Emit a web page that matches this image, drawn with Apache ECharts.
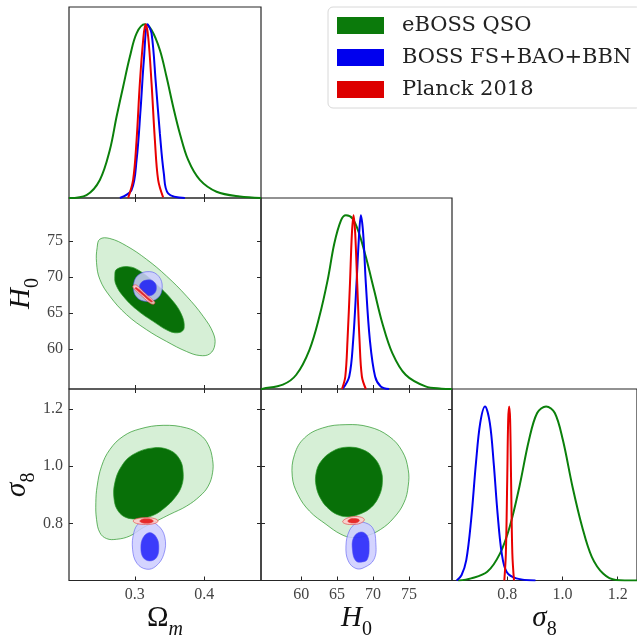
<!DOCTYPE html>
<html>
<head>
<meta charset="utf-8">
<title>eBOSS QSO triangle plot</title>
<script src="https://cdn.jsdelivr.net/npm/echarts@6/dist/echarts.min.js"></script>
<style>
  html, body { margin: 0; padding: 0; background: #fff; }
  #chart { width: 637px; height: 641px; }
</style>
</head>
<body>
<div id="chart"></div>
<script>
// axis ranges + tick values
const omRange = [0.205, 0.482];
const h0Range = [54.4, 81.0];
const s8Range = [0.6, 1.27];
const omTicks = [0.3, 0.4];
const h0Ticks = [60, 65, 70, 75];
const s8Ticks = [0.8, 1.0, 1.2];

const names = ['eBOSS QSO', 'BOSS FS+BAO+BBN', 'Planck 2018'];

// 1D marginals: [value, density / peak]
const omGreen = [[0.205, 0], [0.2303, 0.017], [0.2495, 0.104], [0.2639, 0.276], [0.2736, 0.468], [0.2831, 0.641], [0.2928, 0.813], [0.3025, 0.948], [0.3144, 1.0], [0.3241, 0.967], [0.3361, 0.852], [0.3457, 0.698], [0.3553, 0.526], [0.3649, 0.372], [0.3769, 0.219], [0.3938, 0.104], [0.4179, 0.036], [0.4515, 0.008], [0.482, 0]];
const omBlue = [[0.2784, 0], [0.2952, 0.046], [0.3025, 0.219], [0.3082, 0.507], [0.313, 0.794], [0.3183, 1.0], [0.3241, 0.948], [0.3303, 0.66], [0.3361, 0.372], [0.3418, 0.142], [0.348, 0.027], [0.3722, 0]];
const omRed = [[0.2903, 0], [0.2975, 0.104], [0.3025, 0.334], [0.3072, 0.66], [0.312, 0.91], [0.3154, 1.0], [0.3192, 0.93], [0.3241, 0.66], [0.3289, 0.334], [0.3336, 0.104], [0.3408, 0.004]];

const h0Green = [[54.4, 0], [54.68, 0.002], [57.45, 0.025], [59.31, 0.082], [61.15, 0.226], [62.53, 0.417], [63.68, 0.627], [64.61, 0.838], [65.54, 0.971], [66.23, 1.0], [67.15, 0.981], [68.07, 0.895], [69.0, 0.761], [70.15, 0.57], [71.3, 0.379], [72.69, 0.207], [74.54, 0.082], [77.31, 0.015], [79.54, 0.002], [81.0, 0]];
const h0Blue = [[65.76, 0], [66.69, 0.072], [67.24, 0.283], [67.7, 0.608], [68.07, 0.895], [68.31, 1.0], [68.63, 0.895], [69.0, 0.608], [69.56, 0.283], [70.29, 0.072], [71.08, 0.015], [72.23, 0]];
const h0Red = [[65.68, 0], [66.14, 0.072], [66.45, 0.283], [66.79, 0.608], [67.06, 0.895], [67.29, 1.0], [67.52, 0.895], [67.8, 0.608], [68.12, 0.283], [68.45, 0.072], [69.0, 0]];

const s8Green = [[0.6227, 0], [0.6692, 0.012], [0.7276, 0.05], [0.7741, 0.156], [0.8091, 0.309], [0.8441, 0.539], [0.879, 0.808], [0.9084, 0.962], [0.9409, 1.0], [0.9724, 0.962], [1.0014, 0.808], [1.0364, 0.539], [1.0713, 0.309], [1.1063, 0.136], [1.1472, 0.04], [1.1937, 0.003], [1.27, 0]];
const s8Blue = [[0.6168, 0], [0.6343, 0.03], [0.6517, 0.117], [0.6692, 0.347], [0.6867, 0.674], [0.7021, 0.904], [0.7196, 1.0], [0.7371, 0.904], [0.751, 0.674], [0.765, 0.386], [0.7801, 0.156], [0.7976, 0.05], [0.8326, 0.012], [0.9024, 0]];
const s8Red = [[0.7895, 0], [0.7951, 0.156], [0.8, 0.578], [0.8035, 0.923], [0.807, 1.0], [0.8105, 0.923], [0.814, 0.578], [0.8185, 0.156], [0.8245, 0]];

// 2D contours (outer = 95%, inner = 68%), points read round each region
// Omega_m vs H0
const omH0GreenOuter = [[0.2495, 75.27], [0.2639, 75.36], [0.288, 74.33], [0.3169, 72.46], [0.3457, 70.13], [0.3746, 67.33], [0.3986, 64.52], [0.413, 62.2], [0.4154, 60.56], [0.4082, 59.3], [0.3938, 59.06], [0.3746, 59.62], [0.3457, 61.02], [0.3169, 62.66], [0.288, 64.76], [0.2639, 67.33], [0.2495, 69.66], [0.2447, 72.0], [0.2456, 74.1]];
const omH0GreenInner = [[0.2736, 71.06], [0.2903, 71.44], [0.3072, 70.83], [0.3313, 68.96], [0.353, 66.86], [0.3674, 64.76], [0.3711, 62.9], [0.3649, 62.28], [0.3505, 62.42], [0.3264, 63.82], [0.3025, 65.46], [0.2831, 67.33], [0.2726, 68.96], [0.2711, 70.13]];
const omH0BlueOuter = [[0.321, 70.75], [0.3345, 70.1], [0.3395, 68.6], [0.3335, 67.1], [0.317, 66.6], [0.3025, 67.2], [0.298, 68.7], [0.304, 70.2]];
const omH0BlueInner = [[0.3195, 69.6], [0.328, 69.3], [0.3311, 68.5], [0.328, 67.7], [0.3185, 67.35], [0.3095, 67.65], [0.3065, 68.45], [0.3095, 69.25]];
const omH0RedOuter = [[0.2985, 68.85], [0.3025, 68.85], [0.3125, 67.95], [0.3235, 67.0], [0.329, 66.45], [0.327, 66.2], [0.322, 66.35], [0.311, 67.25], [0.301, 68.15], [0.297, 68.6]];
const omH0RedInner = [[0.302, 68.55], [0.312, 67.75], [0.322, 66.9], [0.3255, 66.6], [0.323, 66.55], [0.313, 67.35], [0.303, 68.2], [0.3005, 68.4]];

// Omega_m vs sigma8
const omS8GreenOuter = [[0.3408, 1.1429], [0.3746, 1.1338], [0.3938, 1.1104], [0.4058, 1.0756], [0.4121, 1.0232], [0.4121, 0.9768], [0.4058, 0.9301], [0.3938, 0.8952], [0.3746, 0.8603], [0.3505, 0.8314], [0.3313, 0.808], [0.312, 0.785], [0.2928, 0.7557], [0.2736, 0.7442], [0.2592, 0.7466], [0.2495, 0.7676], [0.2447, 0.814], [0.2437, 0.8722], [0.2456, 0.9301], [0.252, 0.9999], [0.2639, 1.0581], [0.2831, 1.1045], [0.3072, 1.1303]];
const omS8GreenInner = [[0.3264, 1.064], [0.3505, 1.0557], [0.3649, 1.0232], [0.3697, 0.9768], [0.3674, 0.9301], [0.3577, 0.8896], [0.3433, 0.8548], [0.3264, 0.8279], [0.3072, 0.8164], [0.288, 0.8199], [0.2759, 0.8429], [0.2701, 0.8837], [0.2711, 0.942], [0.2808, 0.9999], [0.2975, 1.0407]];
const omS8BlueOuter = [[0.3169, 0.808], [0.3332, 0.793], [0.3433, 0.7512], [0.3418, 0.6919], [0.3303, 0.65], [0.3169, 0.6396], [0.3029, 0.6605], [0.2967, 0.7093], [0.2986, 0.7686], [0.3058, 0.8]];
const omS8BlueInner = [[0.3216, 0.7676], [0.3313, 0.7501], [0.3346, 0.7152], [0.3313, 0.6804], [0.3216, 0.6685], [0.312, 0.6804], [0.3087, 0.7152], [0.312, 0.7501]];
const omS8RedOuter = [[0.2976, 0.808], [0.3027, 0.8165], [0.3156, 0.82], [0.3285, 0.8165], [0.3336, 0.808], [0.3285, 0.7995], [0.3156, 0.796], [0.3027, 0.7995]];
const omS8RedInner = [[0.3072, 0.808], [0.31, 0.8137], [0.3169, 0.816], [0.3238, 0.8137], [0.3266, 0.808], [0.3238, 0.8023], [0.3169, 0.8], [0.31, 0.8023]];

// H0 vs sigma8
const h0S8GreenOuter = [[66.23, 1.1453], [69.46, 1.1373], [72.23, 1.1045], [74.07, 1.0522], [74.9, 0.9884], [74.9, 0.9301], [74.31, 0.8722], [72.92, 0.8199], [71.08, 0.7791], [69.0, 0.7557], [67.15, 0.7501], [65.54, 0.7616], [63.46, 0.7965], [61.15, 0.8429], [59.53, 0.9012], [58.75, 0.965], [59.07, 1.0407], [60.46, 1.0989], [62.99, 1.1338]];
const h0S8GreenInner = [[66.23, 1.0663], [68.53, 1.0581], [70.15, 1.0292], [71.08, 0.9884], [71.3, 0.942], [70.84, 0.8952], [69.7, 0.8548], [68.07, 0.8314], [66.69, 0.8234], [65.3, 0.8279], [63.92, 0.8488], [62.77, 0.8837], [62.08, 0.9301], [62.08, 0.9768], [62.77, 1.0173], [64.38, 1.0522]];
const h0S8BlueOuter = [[68.53, 0.8045], [69.92, 0.785], [70.39, 0.7327], [70.15, 0.6744], [68.77, 0.6455], [67.62, 0.642], [66.55, 0.6685], [66.23, 0.7208], [66.69, 0.7731], [67.62, 0.8]];
const h0S8BlueInner = [[68.31, 0.7697], [69.22, 0.7557], [69.46, 0.7152], [69.22, 0.6744], [68.53, 0.665], [67.62, 0.6685], [67.15, 0.7034], [67.29, 0.7501]];
const h0S8RedOuter = [[65.77, 0.806], [66.3, 0.817], [67.3, 0.8235], [68.4, 0.821], [68.8, 0.812], [68.2, 0.8], [67.2, 0.796], [66.2, 0.798]];
const h0S8RedInner = [[66.5, 0.808], [66.8, 0.815], [67.3, 0.817], [67.9, 0.815], [68.1, 0.81], [67.8, 0.803], [67.3, 0.801], [66.7, 0.803]];

const serif = 'Liberation Serif';
const frame = '#262626';

function fmt1(v) { return v.toFixed(1); }
function fmt0(v) { return String(v); }

// one value axis; ticks go inside the frame
function axis(grid, range, pos, ticks, label, name) {
  const a = {
    type: 'value', gridIndex: grid, position: pos,
    min: range[0], max: range[1],
    axisLine: { show: false },
    splitLine: { show: false },
    axisTick: { show: !!ticks, inside: true, length: 4, lineStyle: { color: frame, width: 1 } },
    axisLabel: { show: !!label, fontFamily: serif, fontSize: 16, color: '#444', margin: 6 }
  };
  if (ticks) {
    a.axisTick.customValues = ticks;
    a.axisLabel.customValues = ticks;
  }
  if (label) a.axisLabel.formatter = label;
  if (name) {
    a.name = name;
    a.nameLocation = 'middle';
    a.nameTextStyle = {
      color: '#111',
      rich: {
        m: { fontFamily: serif, fontSize: 29, fontStyle: 'italic', verticalAlign: 'top', lineHeight: 36 },
        u: { fontFamily: serif, fontSize: 29, verticalAlign: 'top', lineHeight: 36 },
        s: { fontFamily: serif, fontSize: 20, fontStyle: 'italic', verticalAlign: 'bottom', lineHeight: 36 },
        n: { fontFamily: serif, fontSize: 20, verticalAlign: 'bottom', lineHeight: 36 }
      }
    };
  }
  return a;
}

function density(grid) {
  return { type: 'value', gridIndex: grid, min: 0, max: 1.1, show: false };
}

const grids = [
  { left: 69, top: 7, width: 192, height: 191 },
  { left: 69, top: 198, width: 192, height: 191 },
  { left: 261, top: 198, width: 191, height: 191 },
  { left: 69, top: 389, width: 192, height: 191.5 },
  { left: 261, top: 389, width: 191, height: 191.5 },
  { left: 452, top: 389, width: 192, height: 191.5 }
].map(g => Object.assign({ show: true, borderColor: frame, borderWidth: 1.2, containLabel: false }, g));

const omName = Object.assign(axis(3, omRange, 'bottom', omTicks, fmt1, '{u|Ω}{s|m}'), { nameGap: 22 });
const h0xName = Object.assign(axis(4, h0Range, 'bottom', h0Ticks, fmt0, '{m|H}{n|0}'), { nameGap: 22 });
const s8xName = Object.assign(axis(5, s8Range, 'bottom', s8Ticks, fmt1, '{m|σ}{n|8}'), { nameGap: 22 });
const h0yName = Object.assign(axis(1, h0Range, 'left', h0Ticks, fmt0, '{m|H}{n|0}'), { nameGap: 24, nameRotate: 90 });
const s8yName = Object.assign(axis(3, s8Range, 'left', s8Ticks, fmt1, '{m|σ}{n|8}'), { nameGap: 24, nameRotate: 90 });

const xAxes = [
  axis(0, omRange, 'bottom', omTicks),   // 0
  axis(1, omRange, 'bottom', omTicks),   // 1
  axis(1, omRange, 'top', omTicks),      // 2
  axis(2, h0Range, 'bottom', h0Ticks),   // 3
  omName,                                // 4
  axis(3, omRange, 'top', omTicks),      // 5
  h0xName,                               // 6
  axis(4, h0Range, 'top', h0Ticks),      // 7
  s8xName                                // 8
];
const yAxes = [
  density(0),                            // 0
  h0yName,                               // 1
  axis(1, h0Range, 'right', h0Ticks),    // 2
  density(2),                            // 3
  s8yName,                               // 4
  axis(3, s8Range, 'right', s8Ticks),    // 5
  axis(4, s8Range, 'left', s8Ticks),     // 6
  axis(4, s8Range, 'right', s8Ticks),    // 7
  density(5)                             // 8
];

const lineCol = ['#0b800b', '#0000f0', '#e80000'];
const darkFill = ['#087008', 'rgba(0,0,250,0.72)', 'rgba(225,0,0,0.8)'];
const lightFill = ['#d6efd6', 'rgba(205,205,255,0.85)', 'rgba(255,205,205,0.85)'];
const edgeCol = ['rgba(40,150,40,0.7)', 'rgba(80,80,240,0.55)', 'rgba(230,60,60,0.6)'];

function curve(k, xi, yi, data) {
  return {
    type: 'line', name: names[k], xAxisIndex: xi, yAxisIndex: yi, data: data,
    smooth: 0.35, showSymbol: false, silent: true, z: 3 + k,
    lineStyle: { color: lineCol[k], width: 2 }, itemStyle: { color: lineCol[k] }
  };
}

function region(k, xi, yi, pts, inner) {
  return {
    type: 'custom', name: names[k], xAxisIndex: xi, yAxisIndex: yi, data: pts,
    silent: true, z: 2 + k * 2 + (inner ? 1 : 0),
    renderItem: function (params, api) {
      if (params.dataIndex !== 0) return null;
      return {
        type: 'polygon',
        shape: { points: pts.map(p => api.coord(p)), smooth: 0.4 },
        style: { fill: inner ? darkFill[k] : lightFill[k], stroke: edgeCol[k], lineWidth: 1 }
      };
    }
  };
}

const series = [
  curve(0, 0, 0, omGreen), curve(1, 0, 0, omBlue), curve(2, 0, 0, omRed),
  curve(0, 3, 3, h0Green), curve(1, 3, 3, h0Blue), curve(2, 3, 3, h0Red),
  curve(0, 8, 8, s8Green), curve(1, 8, 8, s8Blue), curve(2, 8, 8, s8Red),

  region(0, 1, 1, omH0GreenOuter), region(0, 1, 1, omH0GreenInner, true),
  region(1, 1, 1, omH0BlueOuter), region(1, 1, 1, omH0BlueInner, true),
  region(2, 1, 1, omH0RedOuter), region(2, 1, 1, omH0RedInner, true),

  region(0, 4, 4, omS8GreenOuter), region(0, 4, 4, omS8GreenInner, true),
  region(1, 4, 4, omS8BlueOuter), region(1, 4, 4, omS8BlueInner, true),
  region(2, 4, 4, omS8RedOuter), region(2, 4, 4, omS8RedInner, true),

  region(0, 6, 6, h0S8GreenOuter), region(0, 6, 6, h0S8GreenInner, true),
  region(1, 6, 6, h0S8BlueOuter), region(1, 6, 6, h0S8BlueInner, true),
  region(2, 6, 6, h0S8RedOuter), region(2, 6, 6, h0S8RedInner, true)
];

const chart = echarts.init(document.getElementById('chart'), null, { renderer: 'canvas' });
chart.setOption({
  animation: false,
  backgroundColor: '#fff',
  grid: grids,
  xAxis: xAxes,
  yAxis: yAxes,
  legend: {
    left: 328, top: 7, orient: 'vertical',
    padding: [8, 10, 8, 9],
    itemWidth: 47, itemHeight: 17, itemGap: 11,
    icon: 'rect', selectedMode: false,
    borderColor: '#d8d8d8', borderWidth: 1, borderRadius: 5, backgroundColor: '#fff',
    textStyle: { fontFamily: 'DejaVu Serif', fontSize: 21, color: '#222', padding: [0, 0, 0, 13] },
    data: [
      { name: names[0], itemStyle: { color: '#0b7a0b' } },
      { name: names[1], itemStyle: { color: '#0000ee' } },
      { name: names[2], itemStyle: { color: '#dd0000' } }
    ]
  },
  series: series
});
</script>
</body>
</html>
